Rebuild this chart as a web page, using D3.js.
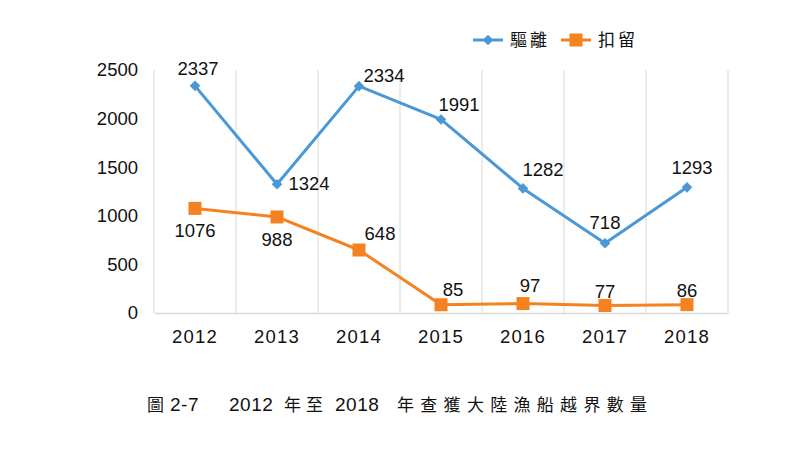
<!DOCTYPE html>
<html>
<head>
<meta charset="utf-8">
<script src="https://cdn.jsdelivr.net/npm/d3@7"></script>
<style>
  body { margin: 0; background: #fff; }
  text { font-family: "Liberation Sans", Arial, sans-serif; }
</style>
</head>
<body>
<div id="chart"></div>
<script>
const years = ["2012", "2013", "2014", "2015", "2016", "2017", "2018"];
const expelled = [2337, 1324, 2334, 1991, 1282, 718, 1293];
const detained = [1076, 988, 648, 85, 97, 77, 86];
const yTicks = [0, 500, 1000, 1500, 2000, 2500];
const seriesNames = ["驅離", "扣留"];

// value label nudges (dx, dy from the point, text centred)
const expelledLabelNudge = [[3, -11], [32, 6], [25, -4], [18, -8], [20, -12], [0, -14], [5, -13]];
const detainedLabelNudge = [[0, 29], [0, 29], [21, -10], [12, -9], [7, -12], [0, -8], [0, -8]];

const width = 800, height = 449;
const margin = { top: 70, right: 72, bottom: 136, left: 154 };
const cjk = "'Noto Sans CJK TC', 'Noto Sans CJK SC', sans-serif";

const svg = d3.select("#chart").append("svg")
  .attr("width", width)
  .attr("height", height);

const x = d3.scaleBand()
  .domain(years)
  .range([margin.left, width - margin.right]);

const y = d3.scaleLinear()
  .domain([0, 2500])
  .range([height - margin.bottom, margin.top]);

// vertical gridlines on the category edges
const edges = years.map(d => x(d)).concat([x(years[years.length - 1]) + x.bandwidth()]);
svg.append("g")
  .selectAll("line")
  .data(edges)
  .join("line")
  .attr("x1", d => d).attr("x2", d => d)
  .attr("y1", y(2500)).attr("y2", y(0))
  .attr("stroke", "#d9d9d9")
  .attr("stroke-width", 1);

const xAxis = g => g
  .attr("transform", `translate(0,${y(0)})`)
  .call(d3.axisBottom(x).tickSize(0).tickPadding(17))
  .call(g => g.select(".domain").attr("stroke", "#d9d9d9").attr("stroke-width", 1.5))
  .call(g => g.selectAll("text")
    .attr("font-size", 18.5)
    .attr("letter-spacing", "1.2px")
    .attr("fill", "#111"));

const yAxis = g => g
  .attr("transform", `translate(${margin.left - 16},0)`)
  .call(d3.axisLeft(y).tickValues(yTicks).tickFormat(d3.format("d")).tickSize(0).tickPadding(0))
  .call(g => g.select(".domain").remove())
  .call(g => g.selectAll("text")
    .attr("font-size", 18.5)
    .attr("fill", "#111"));

svg.append("g").call(xAxis);
svg.append("g").call(yAxis);

const cx = d => x(d) + x.bandwidth() / 2;

const series = [
  { name: seriesNames[0], values: expelled, nudge: expelledLabelNudge, color: "#4a98d6", marker: "diamond" },
  { name: seriesNames[1], values: detained, nudge: detainedLabelNudge, color: "#f58220", marker: "square" }
];

const line = d3.line()
  .x((d, i) => cx(years[i]))
  .y(d => y(d));

const drawMarker = (g, type, color) => {
  if (type === "diamond") {
    g.append("path")
      .attr("d", d3.symbol().type(d3.symbolDiamond2).size(72)())
      .attr("fill", color);
  } else {
    g.append("rect")
      .attr("x", -6.5).attr("y", -6.5)
      .attr("width", 13).attr("height", 13)
      .attr("fill", color);
  }
};

series.forEach(s => {
  svg.append("path")
    .datum(s.values)
    .attr("d", line)
    .attr("fill", "none")
    .attr("stroke", s.color)
    .attr("stroke-width", 3)
    .attr("stroke-linejoin", "round");

  s.values.forEach((v, i) => {
    const g = svg.append("g")
      .attr("transform", `translate(${cx(years[i])},${y(v)})`);
    drawMarker(g, s.marker, s.color);
    svg.append("text")
      .attr("x", cx(years[i]) + s.nudge[i][0])
      .attr("y", y(v) + s.nudge[i][1])
      .attr("text-anchor", "middle")
      .attr("font-size", 18.5)
      .attr("fill", "#111")
      .text(v);
  });
});

// legend
const legend = svg.append("g").attr("transform", "translate(473,40)");
series.forEach((s, i) => {
  const g = legend.append("g").attr("transform", `translate(${i * 88},0)`);
  g.append("line")
    .attr("x1", 0).attr("x2", 30)
    .attr("stroke", s.color).attr("stroke-width", 3);
  const m = g.append("g").attr("transform", "translate(15,0)");
  drawMarker(m, s.marker, s.color);
  g.append("text")
    .attr("x", 37).attr("y", 6)
    .attr("font-size", 17)
    .attr("letter-spacing", "3px")
    .style("font-family", cjk)
    .attr("fill", "#111")
    .text(s.name);
});

// caption, pieced together so the digits and the CJK text get their own spacing
const caption = svg.append("g").attr("fill", "#111");
const capPieces = [
  { t: "圖", x: 147, cjk: true, ls: 0 },
  { t: "2-7", x: 170, cjk: false, ls: 0.5 },
  { t: "2012", x: 229, cjk: false, ls: 0.5 },
  { t: "年至", x: 284, cjk: true, ls: 5 },
  { t: "2018", x: 335, cjk: false, ls: 0.5 },
  { t: "年查獲大陸漁船越界數量", x: 397, cjk: true, ls: 6.3 }
];
capPieces.forEach(p => {
  caption.append("text")
    .attr("x", p.x)
    .attr("y", 411)
    .attr("font-size", p.cjk ? 17 : 19)
    .attr("letter-spacing", p.ls + "px")
    .style("font-family", p.cjk ? cjk : "'Liberation Sans', Arial, sans-serif")
    .text(p.t);
});
</script>
</body>
</html>
